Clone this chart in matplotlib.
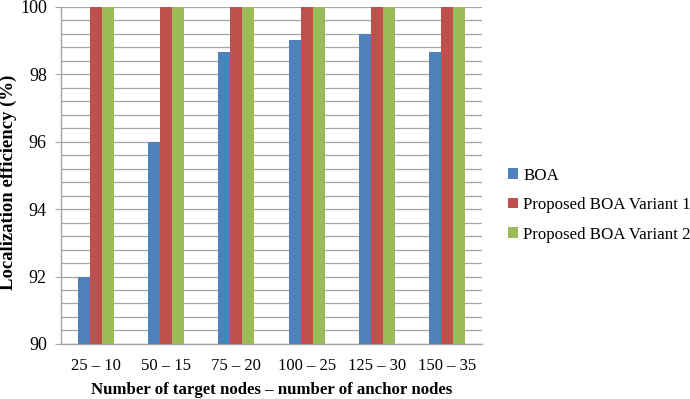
import matplotlib
matplotlib.use("Agg")
import matplotlib.pyplot as plt
import numpy as np
from matplotlib.ticker import MultipleLocator

categories = ["25 – 10", "50 – 15", "75 – 20", "100 – 25", "125 – 30", "150 – 35"]
boa = [92, 96, 98.67, 99, 99.2, 98.67]
variant1 = [100, 100, 100, 100, 100, 100]
variant2 = [100, 100, 100, 100, 100, 100]
series_names = ["BOA", "Proposed BOA Variant 1", "Proposed BOA Variant 2"]
colors = ["#4F81BD", "#C0504D", "#9BBB59"]

plt.rcParams['font.family'] = ['Liberation Serif', 'DejaVu Serif']

fig = plt.figure(figsize=(6.9, 3.99), dpi=100)
ax = fig.add_axes([0.088, 0.138, 0.611, 0.845])

x = np.arange(len(categories))
w = 0.17
for i, (vals, name, c) in enumerate(zip([boa, variant1, variant2], series_names, colors)):
    ax.bar(x + (i - 1) * w, vals, width=w, color=c, label=name, zorder=3)

ax.set_ylim(90, 100)
ax.set_xlim(-0.5, len(categories) - 0.5)
ax.yaxis.set_major_locator(MultipleLocator(2))
ax.yaxis.set_minor_locator(MultipleLocator(0.4))
ax.grid(axis='y', which='both', color='#A6A6A6', linewidth=0.9, zorder=0)
ax.set_xticks(x)
ax.set_xticklabels(categories, fontsize=12)
ax.tick_params(axis='y', which='major', labelsize=13, length=4, color='#A6A6A6', pad=6)
ax.tick_params(axis='y', which='minor', length=0)
ax.tick_params(axis='x', length=0, pad=10)
for s in ['top', 'right']:
    ax.spines[s].set_visible(False)
for s in ['left', 'bottom']:
    ax.spines[s].set_color('#A6A6A6')
    ax.spines[s].set_linewidth(1.0)

ax.set_ylabel("Localization efficiency (%)", fontsize=13.5, fontweight='bold')
ax.yaxis.set_label_coords(-0.104, 0.478)
ax.set_xlabel("Number of target nodes – number of anchor nodes", fontsize=12.1, fontweight='bold', labelpad=6)

fig.legend(loc='center left', bbox_to_anchor=(0.714, 0.486), frameon=False, fontsize=12.2,
           handlelength=0.6, handleheight=0.6, handletextpad=0.3, labelspacing=0.8)

fig.savefig("out.png", dpi=100)
